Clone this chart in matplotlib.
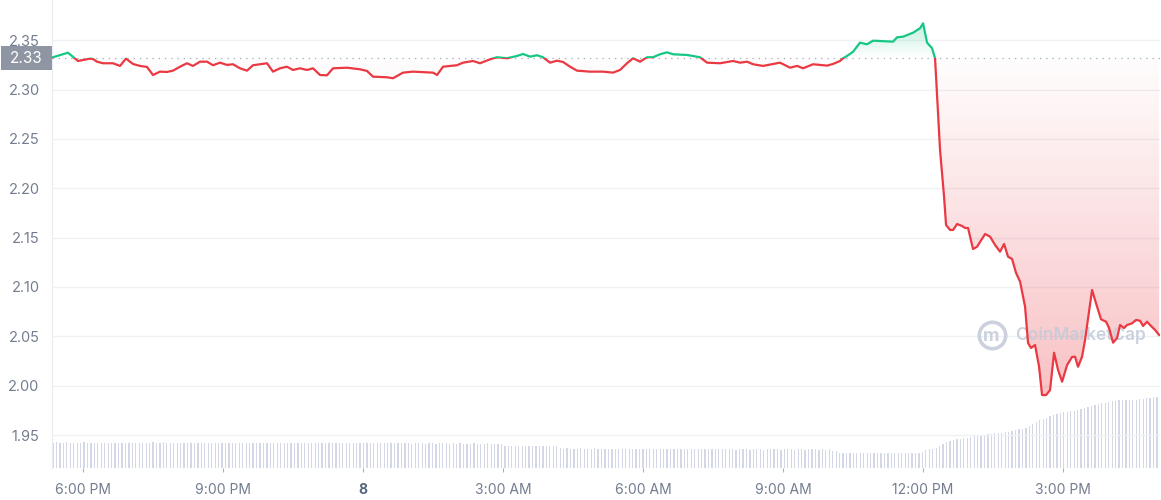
import numpy as np
import matplotlib.pyplot as plt
from matplotlib.patches import Rectangle
from matplotlib.path import Path
from matplotlib.colors import LinearSegmentedColormap
from matplotlib.transforms import blended_transform_factory

plt.rcParams['font.family'] = ['Inter', 'DejaVu Sans']

# price samples: clock hour (24 = midnight of the 8th) and price in USD
hours = [17.336, 17.679, 17.893, 18.15, 18.214, 18.3, 18.429, 18.643, 18.793, 18.921,
         19.071, 19.221, 19.371, 19.5, 19.65, 19.8, 19.929, 20.079, 20.229, 20.357,
         20.507, 20.657, 20.786, 20.936, 21.086, 21.214, 21.364, 21.514, 21.643, 21.793,
         21.943, 22.071, 22.221, 22.371, 22.5, 22.65, 22.8, 22.929, 23.079, 23.229,
         23.357, 23.657, 23.936, 24.086, 24.214, 24.514, 24.643, 24.857, 25.071, 25.5,
         25.586, 25.714, 26.014, 26.143, 26.357, 26.507, 26.721, 26.871, 27.086, 27.3,
         27.429, 27.579, 27.729, 27.857, 28.007, 28.157, 28.286, 28.436, 28.586, 28.864,
         29.143, 29.357, 29.507, 29.657, 29.786, 29.936, 30.086, 30.214, 30.364, 30.514,
         30.643, 30.943, 31.221, 31.371, 31.65, 31.929, 32.079, 32.229, 32.357, 32.571,
         32.786, 32.936, 33.15, 33.3, 33.429, 33.643, 33.943, 34.071, 34.221, 34.286,
         34.371, 34.5, 34.65, 34.8, 34.929, 35.357, 35.443, 35.571, 35.786, 35.936,
         36.0, 36.086, 36.193, 36.257, 36.364, 36.45, 36.493, 36.579, 36.643, 36.729,
         36.836, 36.9, 36.964, 37.071, 37.157, 37.329, 37.436, 37.543, 37.65, 37.736,
         37.821, 37.907, 37.993, 38.079, 38.186, 38.25, 38.314, 38.4, 38.486, 38.55,
         38.636, 38.721, 38.807, 38.893, 38.979, 39.086, 39.193, 39.257, 39.321, 39.407,
         39.471, 39.621, 39.729, 39.814, 39.921, 39.986, 40.071, 40.157, 40.221, 40.307,
         40.371, 40.479, 40.564, 40.65, 40.714, 40.8, 40.864, 40.971, 41.057]
price = [2.3325, 2.3374, 2.329, 2.3314, 2.331, 2.3283, 2.3267, 2.3267, 2.324, 2.3314,
         2.326, 2.324, 2.323, 2.3148, 2.3182, 2.3179, 2.3192, 2.3232, 2.3267, 2.324,
         2.3283, 2.3283, 2.3247, 2.3273, 2.325, 2.3257, 2.3216, 2.3192, 2.3247, 2.3257,
         2.3267, 2.3182, 2.3216, 2.3232, 2.3199, 2.3216, 2.3199, 2.3216, 2.3148, 2.3145,
         2.3216, 2.3222, 2.3206, 2.3189, 2.3131, 2.3125, 2.3115, 2.3172, 2.3182, 2.3172,
         2.3148, 2.3232, 2.3247, 2.3273, 2.329, 2.3267, 2.3307, 2.3328, 2.3318, 2.3341,
         2.3361, 2.3334, 2.3348, 2.3328, 2.3273, 2.3293, 2.328, 2.3232, 2.3192, 2.3182,
         2.3182, 2.3172, 2.3199, 2.3267, 2.3318, 2.3283, 2.3328, 2.3328, 2.3358, 2.3378,
         2.3358, 2.3351, 2.3328, 2.3273, 2.3267, 2.329, 2.3273, 2.3283, 2.3257, 2.324,
         2.326, 2.3273, 2.3222, 2.324, 2.3216, 2.3257, 2.3243, 2.326, 2.329, 2.3318,
         2.3341, 2.3384, 2.3476, 2.3459, 2.3496, 2.3486, 2.353, 2.3536, 2.3577, 2.3622,
         2.3672, 2.3476, 2.3419, 2.3318, 2.2388, 2.1915, 2.1628, 2.1578, 2.1578, 2.1638,
         2.1618, 2.1598, 2.1598, 2.1385, 2.1408, 2.1537, 2.151, 2.1426, 2.1358, 2.1436,
         2.1307, 2.1284, 2.1142, 2.1054, 2.08, 2.0432, 2.0382, 2.0412, 2.0192, 1.9905,
         1.9905, 1.9956, 2.0334, 2.0159, 2.004, 2.0209, 2.0291, 2.0294, 2.0192, 2.0294,
         2.0463, 2.097, 2.08, 2.0673, 2.0648, 2.0584, 2.0436, 2.0483, 2.0615, 2.0584,
         2.0615, 2.0632, 2.0666, 2.0658, 2.0605, 2.0648, 2.0615, 2.0565, 2.0514]
open_price = 2.332

# traded volume (millions), one bar per interval
volume = [25.2, 25.3, 25.1, 25.2, 25.3, 25.2, 25.0, 25.1, 25.2, 25.3, 25.1, 25.0, 25.2, 25.1,
          24.6, 24.5, 24.7, 24.6, 24.5, 24.6, 24.8, 24.7, 24.6, 24.5, 24.7, 24.6, 24.5,
          25.1, 25.2, 25.3, 25.2, 25.1, 25.3, 25.2, 25.1, 25.2, 25.0, 25.1, 25.2, 25.1, 25.0,
          24.9, 24.8, 24.9, 24.8, 24.7, 24.8, 24.9, 24.8, 24.7, 24.8, 24.9, 24.8, 24.8, 24.7, 24.8,
          24.7, 24.8, 24.7, 24.6, 24.7, 24.8, 24.7, 24.6, 24.7, 24.7, 24.6, 24.7, 24.8, 24.7, 24.6,
          24.6, 24.5, 24.6, 24.5, 24.6, 24.5, 24.4, 24.5, 24.6, 24.5, 24.4, 24.5, 24.6, 24.5, 24.4,
          24.5, 24.4, 24.5, 24.4, 24.3, 24.4, 24.5, 24.4, 24.3, 24.4, 24.5, 24.4, 24.3, 24.4, 24.4,
          24.3, 24.4, 24.3, 24.2, 24.3, 24.4, 24.3, 24.2, 24.3, 24.3, 24.2, 24.3, 24.4, 24.3, 24.2,
          24.3, 24.2, 24.3, 24.2, 24.1, 24.2, 24.3, 24.2, 24.1, 24.2, 24.3, 24.2, 24.1, 24.2, 24.2,
          21.6, 21.5, 21.6, 21.4, 21.5, 21.6, 21.5, 21.4, 21.5, 21.6, 21.5, 21.4, 21.5, 21.4, 21.5, 21.4,
          19.4, 19.3, 19.4, 19.3, 19.2, 19.3, 19.4, 19.3, 19.2, 19.3, 19.4, 19.3, 19.2, 19.3, 19.3, 19.2,
          19.1, 19.2, 19.1, 19.0, 19.1, 19.2, 19.1, 19.0, 19.1, 19.0, 19.1, 19.0, 18.9, 19.0, 19.1, 19.0,
          18.8, 18.7, 18.6, 18.5, 18.6, 18.5, 18.4, 18.5, 18.6, 18.5, 18.4, 18.5, 18.4, 18.5, 18.4, 18.5,
          18.4, 18.5, 18.4, 18.3, 18.4, 18.5, 18.4, 18.3, 18.4, 18.5, 18.4, 18.3, 18.4, 18.5, 18.4,
          18.4, 18.3, 18.4, 18.5, 18.4, 18.3, 18.4, 18.4, 18.3, 18.4, 18.5, 18.4, 18.3, 18.4, 18.3, 18.4,
          17.0, 16.9,
          15.1, 15.0, 15.1, 15.0, 14.9, 15.0, 15.1, 15.0, 14.9, 15.0, 14.9, 15.0, 14.9, 14.8, 14.9,
          14.8, 14.7, 14.8, 14.7, 14.6, 14.7, 14.6, 14.5,
          14.5, 15.7, 17.7, 18.7, 19.2, 19.7, 21.5, 23.4, 25.4, 26.7,
          27.3, 28.4, 28.8, 29.3, 29.9, 30.4, 31.2, 31.8, 32.4, 32.9,
          33.5, 34.0, 34.4, 34.7, 35.0, 35.3, 35.6, 37.0, 37.6, 38.2,
          38.9, 40.0, 42.0, 44.0, 46.0, 47.5, 48.7, 49.9, 51.0, 52.2,
          53.4, 54.5, 55.1, 55.7, 56.2, 56.8, 57.6, 58.3, 59.2, 60.4,
          61.6, 62.5, 63.2, 64.1, 64.8, 65.4, 65.9, 66.5, 67.1, 67.6,
          67.7, 67.7, 67.7, 67.8, 68.3, 68.8, 69.3, 69.7, 70.0, 70.3]
vol_hours = np.linspace(17.357, 41.013, len(volume))

tick_hours = [18, 21, 24, 27, 30, 33, 36, 39]
tick_labels = ['6:00 PM', '9:00 PM', '8', '3:00 AM', '6:00 AM', '9:00 AM', '12:00 PM', '3:00 PM']
y_ticks = [1.95, 2.00, 2.05, 2.10, 2.15, 2.20, 2.25, 2.30, 2.35]

green = '#16c784'
red = '#ea3943'
label_grey = '#737d8f'
mark_grey = '#c4cad8'

hours = np.array(hours)
price = np.array(price)
x0, x1 = 17.336, 41.077
y0, y1 = 1.9166, 2.3908

fig = plt.figure(figsize=(11.61, 5.0), dpi=100)
ax = fig.add_axes([52 / 1161, 32 / 500, 1108 / 1161, 468 / 500])

# volume bars on their own scale at the bottom
vax = ax.twinx()
vax.bar(vol_hours, volume, width=0.027, color='#d4d8e6', linewidth=0)
vax.set_ylim(0, max(volume) * 468 / 71)
vax.set_xlim(x0, x1)
vax.axis('off')
ax.set_zorder(2)
ax.patch.set_visible(False)

# gradient fills between price and the opening price
grad = np.linspace(0, 1, 256).reshape(-1, 1)
red_cmap = LinearSegmentedColormap.from_list('r', [(0.918, 0.224, 0.263, 0.32), (0.918, 0.224, 0.263, 0.01)])
green_cmap = LinearSegmentedColormap.from_list('g', [(0.086, 0.78, 0.518, 0.0), (0.086, 0.78, 0.518, 0.28)])

below = ax.fill_between(hours, price, open_price, where=price < open_price, interpolate=True,
                        facecolor='none', edgecolor='none')
above = ax.fill_between(hours, price, open_price, where=price > open_price, interpolate=True,
                        facecolor='none', edgecolor='none')
im_r = ax.imshow(grad, extent=[x0, x1, 1.98, open_price], origin='lower', cmap=red_cmap,
                 aspect='auto', zorder=1)
im_r.set_clip_path(Path.make_compound_path(*below.get_paths()), ax.transData)
im_g = ax.imshow(grad, extent=[x0, x1, open_price, 2.37], origin='lower', cmap=green_cmap,
                 aspect='auto', zorder=1)
im_g.set_clip_path(Path.make_compound_path(*above.get_paths()), ax.transData)

# price line, green above the opening price and red below
up_clip = Rectangle((x0, open_price), x1 - x0, y1 - open_price, transform=ax.transData)
dn_clip = Rectangle((x0, y0), x1 - x0, open_price - y0, transform=ax.transData)
lg, = ax.plot(hours, price, color=green, lw=1.6, zorder=4, solid_joinstyle='round')
lg.set_clip_path(up_clip)
lr, = ax.plot(hours, price, color=red, lw=1.6, zorder=4, solid_joinstyle='round')
lr.set_clip_path(dn_clip)

ax.axhline(open_price, color='#a3a9b6', lw=0.9, ls=(0, (1, 4)), zorder=3)

ax.set_xlim(x0, x1)
ax.set_ylim(y0, y1)
ax.set_yticks(y_ticks)
ax.set_yticklabels(['%.2f' % v for v in y_ticks])
ax.set_xticks(tick_hours)
ax.set_xticklabels(tick_labels)
ax.grid(axis='y', color='#eff1f4', lw=1)
ax.set_axisbelow(True)
for s in ['top', 'right', 'bottom']:
    ax.spines[s].set_visible(False)
ax.spines['left'].set_color('#e9ecf0')
ax.tick_params(axis='y', length=0, pad=9, labelsize=10.5, labelcolor=label_grey)
ax.tick_params(axis='x', length=3, width=0.8, color='#aab1bd', pad=8, labelsize=10,
               labelcolor=label_grey)
for t in ax.get_xticklabels():
    if t.get_text() == '8':
        t.set_fontweight('bold')
        t.set_color('#58667e')

# current-price tag on the y axis
trans = blended_transform_factory(fig.transFigure, ax.transData)
fig.add_artist(Rectangle((1 / 1161, open_price - 0.0124), 51 / 1161, 0.0248, transform=trans,
                         facecolor='#8f96a3', edgecolor='none'))
fig.text(26.5 / 1161, open_price, '%.2f' % open_price, transform=trans, ha='center', va='center',
         color='white', fontsize=11)

# watermark
ax.plot([0.848], [0.284], marker='o', ms=19, mfc='none', mec=mark_grey, mew=2.6,
        transform=ax.transAxes, zorder=3.5, alpha=0.85)
ax.text(0.848, 0.281, 'm', transform=ax.transAxes, ha='center', va='center', fontsize=13,
        color=mark_grey, fontweight='bold', zorder=3.5, alpha=0.85)
ax.text(0.869, 0.284, 'CoinMarketCap', transform=ax.transAxes, ha='left', va='center',
        fontsize=12.5, color=mark_grey, fontweight='semibold', alpha=0.85, zorder=3.5)

fig.savefig('out.png', dpi=100)
